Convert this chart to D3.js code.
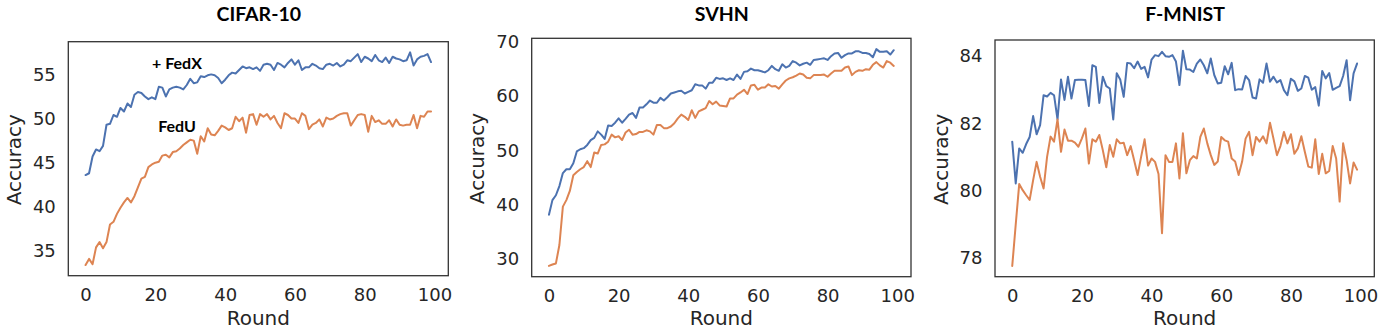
<!DOCTYPE html>
<html>
<head>
<meta charset="utf-8">
<script src="https://cdn.jsdelivr.net/npm/d3@7"></script>
<style>
  html, body { margin: 0; padding: 0; background: #fff; }
  svg { display: block; }
</style>
</head>
<body>
<svg id="chart" width="1385" height="336"></svg>
<script>
// ---------------- DATA ----------------
const rounds = d3.range(0, 100);
const titles = ["CIFAR-10", "SVHN", "F-MNIST"];
const xTicks = [0, 20, 40, 60, 80, 100];
const yTicksCifar = [35, 40, 45, 50, 55];
const yTicksSvhn = [30, 40, 50, 60, 70];
const yTicksFmnist = [78, 80, 82, 84];
const xLabel = "Round";
const yLabel = "Accuracy";
const seriesNames = ["+ FedX", "FedU"];

const cifarFedX = [43.6,43.8,45.7,46.5,46.3,46.9,49.3,49.4,50.4,50.2,
  51.2,50.8,51.7,51.3,52.7,53.0,52.9,52.5,52.2,52.4,
  52.2,53.6,53.5,52.5,53.3,53.5,53.6,53.5,53.3,53.8,
  54.5,54.0,54.1,54.8,54.7,54.9,55.0,54.9,54.6,54.0,
  54.4,54.9,55.2,55.1,55.5,55.9,55.7,55.8,55.6,55.8,
  55.4,56.1,56.2,56.1,55.5,56.3,56.1,55.8,56.3,56.7,
  56.1,56.6,55.5,55.8,55.8,56.2,56.0,55.7,55.6,56.1,
  56.2,56.0,56.3,55.9,56.1,56.6,56.5,56.9,57.3,56.4,
  57.0,56.8,56.5,57.2,56.6,56.4,56.9,56.3,57.0,56.8,
  56.7,56.5,56.6,57.5,56.0,56.7,57.0,57.1,57.3,56.4];
const cifarFedU = [33.4,34.1,33.5,35.4,36.0,35.3,36.0,38.0,38.3,39.2,
  39.9,40.5,41.0,40.5,41.2,42.2,43.2,43.4,44.5,44.8,
  45.0,45.1,45.8,45.9,45.6,46.2,46.3,46.6,47.0,47.3,
  47.6,47.5,46.0,48.0,47.4,48.9,48.2,48.1,48.6,49.2,
  49.0,48.7,48.9,50.2,49.7,50.1,48.4,50.4,50.5,49.3,
  50.5,50.2,50.5,49.9,50.3,49.5,48.9,50.6,50.4,50.0,
  50.0,49.5,50.6,50.3,48.8,49.3,49.5,49.9,49.1,50.1,
  49.9,50.0,50.3,50.5,50.6,50.6,49.2,49.8,50.4,50.5,
  50.4,48.5,50.3,49.6,49.8,49.4,49.4,49.8,49.1,49.9,
  49.3,49.2,49.3,49.3,50.4,48.9,50.3,50.2,50.8,50.8];

const svhnFedX = [38.1,40.8,41.7,43.4,45.8,46.5,46.5,47.6,49.8,50.2,
  50.4,51.0,51.9,52.3,53.5,52.9,52.1,54.6,54.5,55.1,
  55.9,55.1,55.8,56.6,56.9,56.0,57.9,57.9,58.5,59.2,
  58.8,58.8,59.7,59.2,59.8,60.5,60.7,60.9,61.0,60.5,
  60.8,61.1,62.2,62.0,62.0,61.4,62.5,62.5,63.4,63.2,
  63.3,63.0,63.3,63.0,64.0,63.2,64.5,64.6,65.1,64.8,
  64.8,64.6,64.4,64.8,65.6,65.0,64.7,65.9,65.3,65.6,
  66.5,66.2,65.7,66.0,66.2,65.8,66.7,66.8,66.9,67.0,
  66.7,67.4,67.9,68.0,67.1,67.6,67.9,67.9,68.3,68.3,
  68.0,68.0,67.8,67.2,68.7,68.2,68.2,68.3,67.7,68.5];
const svhnFedU = [28.65,28.9,29.1,32.5,39.6,40.8,42.5,45.4,46.0,46.5,
  46.9,48.0,46.9,49.6,49.4,51.0,51.1,51.6,52.9,52.4,
  52.6,51.9,53.3,53.8,52.9,53.0,53.4,53.4,53.7,53.5,
  52.9,54.7,54.7,54.1,54.1,54.4,55.0,55.9,56.6,56.2,
  55.6,57.4,56.0,57.2,57.5,57.8,59.1,58.5,59.0,58.3,
  58.2,58.1,59.6,59.6,60.3,60.7,61.2,60.4,62.0,62.1,
  61.2,61.6,61.6,62.2,61.8,61.9,61.4,62.2,62.9,63.3,
  63.5,63.8,64.2,64.0,63.4,63.3,63.9,63.9,63.9,64.0,
  63.6,64.2,64.7,64.7,64.7,65.3,65.5,63.9,64.5,64.8,
  64.7,65.0,64.9,65.8,66.3,65.7,65.3,66.5,66.2,65.6];

const fmnistFedX = [81.46,80.22,81.26,81.13,81.39,81.6,82.22,81.68,81.95,82.84,
  82.8,82.91,82.84,82.12,83.31,82.7,83.39,82.74,83.29,83.3,
  83.3,83.29,82.52,83.73,83.68,82.61,83.39,83.11,83.04,82.12,
  83.49,83.31,82.79,83.8,83.78,83.64,83.84,83.62,83.68,83.37,
  83.9,84.03,84.0,84.13,84.0,83.98,84.03,83.84,83.14,84.16,
  83.61,83.6,83.53,83.78,83.9,83.73,83.49,83.93,83.44,83.19,
  83.21,83.7,83.46,83.8,82.99,83.02,83.01,83.41,83.29,82.77,
  82.74,83.31,83.21,83.78,83.24,83.39,83.22,83.29,82.99,82.84,
  83.33,83.25,82.97,83.04,83.41,83.36,83.0,83.08,82.53,83.56,
  83.34,83.5,83.0,83.06,83.11,83.41,83.88,82.69,83.49,83.78];
const fmnistFedU = [77.77,79.0,80.2,80.02,79.87,79.73,80.32,80.86,80.42,80.07,
  81.01,81.61,81.46,82.12,81.16,81.82,81.49,81.49,81.43,81.31,
  81.56,81.85,80.81,81.53,81.46,81.66,81.21,80.7,81.36,81.01,
  81.53,81.41,81.43,81.06,81.33,80.91,80.47,81.01,81.53,80.75,
  80.96,80.86,80.5,78.74,81.06,80.86,80.86,81.41,80.37,81.71,
  80.52,80.91,81.03,80.96,81.6,81.85,81.41,81.06,80.77,80.87,
  81.6,81.5,81.46,80.96,80.87,80.47,80.87,81.55,81.75,81.06,
  81.6,81.46,81.62,81.41,82.02,81.55,81.06,81.33,81.75,81.41,
  81.68,81.1,81.26,81.62,81.16,80.72,80.69,81.53,80.5,81.1,
  80.52,80.59,81.33,80.96,79.68,81.41,80.91,80.22,80.84,80.63];

// annotation anchors (round, accuracy) in CIFAR-10 panel
const annotRounds = [26.2, 26.2];
const annotValues = [55.65, 48.5];

// ---------------- LAYOUT / STYLE ----------------
const colors = ["#4c72b0", "#dd8452"];
const panels = [
  {title: titles[0], series: [cifarFedX, cifarFedU], yTicks: yTicksCifar,
   left: 68.3, right: 448.3, top: 41.7, bottom: 275.7, annotate: true},
  {title: titles[1], series: [svhnFedX, svhnFedU], yTicks: yTicksSvhn,
   left: 531.7, right: 911, top: 38.3, bottom: 276.7, annotate: false},
  {title: titles[2], series: [fmnistFedX, fmnistFedU], yTicks: yTicksFmnist,
   left: 995, right: 1374.3, top: 40, bottom: 276.7, annotate: false}
];

const svg = d3.select("#chart");
const tickFont = "'DejaVu Sans', sans-serif";
const textColor = "#262626";

panels.forEach(p => {
  const g = svg.append("g");
  // matplotlib-style 5% margins
  const xExt = d3.extent(rounds);
  const xPad = (xExt[1] - xExt[0]) * 0.05;
  const x = d3.scaleLinear().domain([xExt[0] - xPad, xExt[1] + xPad]).range([p.left, p.right]);
  const all = p.series.flat();
  const yExt = d3.extent(all);
  const yPad = (yExt[1] - yExt[0]) * 0.05;
  const y = d3.scaleLinear().domain([yExt[0] - yPad, yExt[1] + yPad]).range([p.bottom, p.top]);

  // lines
  const line = d3.line().x((d, i) => x(rounds[i])).y(d => y(d));
  p.series.forEach((s, k) => {
    g.append("path").datum(s)
      .attr("fill", "none")
      .attr("stroke", colors[k])
      .attr("stroke-width", 2)
      .attr("stroke-linejoin", "round")
      .attr("stroke-linecap", "round")
      .attr("d", line);
  });

  // frame
  g.append("rect")
    .attr("x", p.left).attr("y", p.top)
    .attr("width", p.right - p.left).attr("height", p.bottom - p.top)
    .attr("fill", "none").attr("stroke", "#333").attr("stroke-width", 1.3);

  // axes
  const fmt = d3.format("d");
  const xAxis = d3.axisBottom(x).tickValues(xTicks).tickFormat(fmt).tickSize(0).tickPadding(12.5);
  const gx = g.append("g").attr("transform", `translate(0,${p.bottom})`).call(xAxis);
  const yAxis = d3.axisLeft(y).tickValues(p.yTicks).tickFormat(fmt).tickSize(0).tickPadding(12.5);
  const gy = g.append("g").attr("transform", `translate(${p.left},0)`).call(yAxis);
  [gx, gy].forEach(a => {
    a.select(".domain").remove();
    a.selectAll("text")
      .attr("font-family", tickFont).attr("font-size", 18).attr("fill", textColor);
  });

  // axis labels
  g.append("text")
    .attr("x", (p.left + p.right) / 2).attr("y", 325)
    .attr("text-anchor", "middle")
    .attr("font-family", tickFont).attr("font-size", 20).attr("fill", textColor)
    .text(xLabel);
  g.append("text")
    .attr("transform", `translate(${p.left - 47.5},${(p.top + p.bottom) / 2 + 1}) rotate(-90)`)
    .attr("text-anchor", "middle")
    .attr("font-family", tickFont).attr("font-size", 20).attr("fill", textColor)
    .text(yLabel);

  // title
  g.append("text")
    .attr("x", (p.left + p.right) / 2 + 0.5).attr("y", 20.5)
    .attr("text-anchor", "middle")
    .attr("font-family", "Lato, 'Open Sans', sans-serif").attr("font-weight", 700)
    .attr("font-size", 19.5).attr("fill", "#000")
    .text(p.title);

  if (p.annotate) {
    seriesNames.forEach((name, k) => {
      g.append("text")
        .attr("x", x(annotRounds[k])).attr("y", y(annotValues[k]))
        .attr("text-anchor", "middle")
        .attr("font-family", "Lato, 'Open Sans', sans-serif").attr("font-weight", 700)
        .attr("font-size", 16).attr("fill", "#000")
        .text(name);
    });
  }
});
</script>
</body>
</html>
